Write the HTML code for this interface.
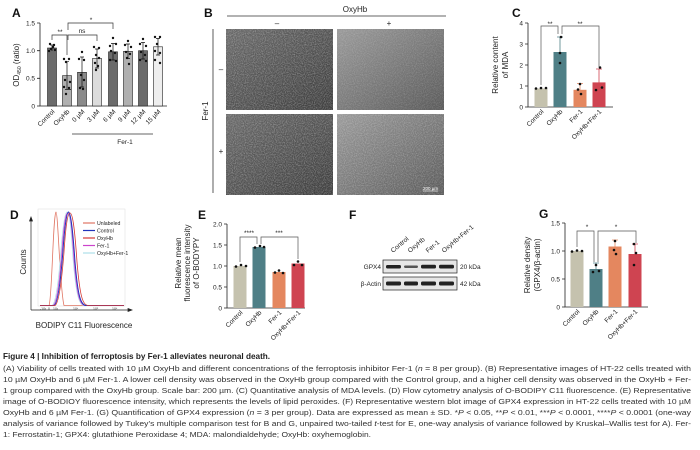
<!DOCTYPE html>
<html><head><meta charset="utf-8"><style>
html,body{margin:0;padding:0;background:#fff;}
svg{display:block;font-family:"Liberation Sans",Arial,sans-serif;}
.t{font-size:6.5px;fill:#222;}
.l{font-size:8px;fill:#222;}
.p{font-size:12px;font-weight:bold;fill:#111;}
.c{font-size:7.6px;fill:#333;}
</style></head><body>
<svg width="700" height="450" viewBox="0 0 700 450" xmlns="http://www.w3.org/2000/svg">
<defs>
<filter id="nz" x="0" y="0" width="100%" height="100%">
<feTurbulence type="fractalNoise" baseFrequency="0.9" numOctaves="2" seed="3"/>
<feColorMatrix type="matrix" values="0 0 0 0 1  0 0 0 0 1  0 0 0 0 1  0 0 0 1.2 -0.45"/>
</filter>
<linearGradient id="gd" x1="0" y1="0" x2="1" y2="1"><stop offset="0" stop-color="#6a6a6a"/><stop offset="1" stop-color="#3c3c3c"/></linearGradient>
<linearGradient id="gl" x1="0" y1="0" x2="1" y2="1"><stop offset="0" stop-color="#9a9a9a"/><stop offset="1" stop-color="#5a5a5a"/></linearGradient>
</defs>

<!-- Panel A -->
<text x="12" y="17" class="p">A</text>
<g stroke="#222" stroke-width="0.8" fill="none">
<path d="M40,23 V106 H167"/>
<path d="M37,23H40M37,50.7H40M37,78.3H40M37,106H40"/>
</g>
<text x="35" y="25.5" class="t" text-anchor="end" font-size="7">1.5</text>
<text x="35" y="53" class="t" text-anchor="end" font-size="7">1.0</text>
<text x="35" y="80.5" class="t" text-anchor="end" font-size="7">0.5</text>
<text x="35" y="108.5" class="t" text-anchor="end" font-size="7">0</text>
<text transform="translate(19,65) rotate(-90)" class="l" text-anchor="middle">OD<tspan font-size="5" dy="2">450</tspan><tspan dy="-2"> (ratio)</tspan></text>
<g stroke="#222" stroke-width="0.6">
<rect x="47.5" y="48" width="9" height="58" fill="#6b6b6b"/>
<rect x="62.5" y="75.6" width="9" height="30.4" fill="#b0b0b0"/>
<rect x="77.5" y="72.3" width="9" height="33.7" fill="#8a8a8a"/>
<rect x="92.5" y="58.4" width="9" height="47.6" fill="#dcdcdc"/>
<rect x="108.5" y="51.8" width="9" height="54.2" fill="#6b6b6b"/>
<rect x="123.5" y="51.3" width="9" height="54.7" fill="#b0b0b0"/>
<rect x="138.5" y="50.7" width="9" height="55.3" fill="#6b6b6b"/>
<rect x="153.5" y="46.8" width="9" height="59.2" fill="#eeeeee"/>
</g>
<g stroke="#111" stroke-width="0.7">
<path d="M52,45V51M50,45H54"/>
<path d="M67,61.7V89.4M65,61.7H69M65,89.4H71"/>
<path d="M82,57V87M80,57H84M80,87H84"/>
<path d="M97,49V68M95,49H99M95,68H99"/>
<path d="M113,43.5V60M111,43.5H115M111,60H115"/>
<path d="M128,44V58.5M126,44H130M126,58.5H130"/>
<path d="M143,42.5V59M141,42.5H145M141,59H145"/>
<path d="M158,38.5V55M156,38.5H160M156,55H160"/>
</g>
<g fill="#111">
<circle cx="50" cy="44" r="1.2"/><circle cx="53" cy="47" r="1.2"/><circle cx="55" cy="50" r="1.2"/><circle cx="49" cy="51" r="1.2"/><circle cx="54" cy="45" r="1.2"/><circle cx="51" cy="49" r="1.2"/>
<circle cx="64" cy="59" r="1.2"/><circle cx="69" cy="59" r="1.2"/><circle cx="66" cy="62" r="1.2"/><circle cx="64" cy="87" r="1.2"/><circle cx="69" cy="88" r="1.2"/><circle cx="66" cy="94" r="1.2"/><circle cx="70" cy="82" r="1.2"/><circle cx="65" cy="80" r="1.2"/>
<circle cx="82" cy="52" r="1.2"/><circle cx="79" cy="59" r="1.2"/><circle cx="84" cy="60" r="1.2"/><circle cx="81" cy="75" r="1.2"/><circle cx="84" cy="80" r="1.2"/><circle cx="80" cy="88" r="1.2"/><circle cx="83" cy="89" r="1.2"/>
<circle cx="94" cy="47" r="1.2"/><circle cx="99" cy="48" r="1.2"/><circle cx="96" cy="55" r="1.2"/><circle cx="99" cy="58" r="1.2"/><circle cx="95" cy="63" r="1.2"/><circle cx="98" cy="66" r="1.2"/><circle cx="96" cy="70" r="1.2"/>
<circle cx="113" cy="38" r="1.2"/><circle cx="110" cy="46" r="1.2"/><circle cx="116" cy="44" r="1.2"/><circle cx="111" cy="51" r="1.2"/><circle cx="115" cy="53" r="1.2"/><circle cx="110" cy="60" r="1.2"/><circle cx="116" cy="61" r="1.2"/>
<circle cx="128" cy="41" r="1.2"/><circle cx="125" cy="45" r="1.2"/><circle cx="131" cy="47" r="1.2"/><circle cx="126" cy="52" r="1.2"/><circle cx="130" cy="54" r="1.2"/><circle cx="127" cy="58" r="1.2"/><circle cx="129" cy="64" r="1.2"/>
<circle cx="143" cy="39" r="1.2"/><circle cx="140" cy="44" r="1.2"/><circle cx="146" cy="46" r="1.2"/><circle cx="141" cy="52" r="1.2"/><circle cx="145" cy="55" r="1.2"/><circle cx="140" cy="60" r="1.2"/><circle cx="146" cy="61" r="1.2"/>
<circle cx="155" cy="37" r="1.2"/><circle cx="160" cy="37" r="1.2"/><circle cx="157" cy="44" r="1.2"/><circle cx="155" cy="51" r="1.2"/><circle cx="160" cy="53" r="1.2"/><circle cx="155" cy="60" r="1.2"/><circle cx="160" cy="63" r="1.2"/>
</g>
<g stroke="#333" stroke-width="0.7" fill="none">
<path d="M52,40V35H67V55"/>
<path d="M68,40V35H97V41"/>
<path d="M68,30V23H113V29"/>
</g>
<text x="60" y="34" class="t" text-anchor="middle">**</text>
<text x="82" y="33" class="t" text-anchor="middle">ns</text>
<text x="91" y="22" class="t" text-anchor="middle">*</text>
<g class="t" font-size="7" text-anchor="end">
<text transform="translate(55,112) rotate(-45)">Control</text>
<text transform="translate(70,112) rotate(-45)">OxyHb</text>
<text transform="translate(85,112) rotate(-45)">0 µM</text>
<text transform="translate(100,112) rotate(-45)">3 µM</text>
<text transform="translate(116,112) rotate(-45)">6 µM</text>
<text transform="translate(131,112) rotate(-45)">9 µM</text>
<text transform="translate(146,112) rotate(-45)">12 µM</text>
<text transform="translate(161,112) rotate(-45)">15 µM</text>
</g>
<path d="M72,134H153" stroke="#333" stroke-width="0.7"/>
<text x="125" y="144" class="t" font-size="7" text-anchor="middle">Fer-1</text>

<!-- Panel B -->
<text x="204" y="17" class="p">B</text>
<path d="M227,16H446" stroke="#333" stroke-width="0.8"/>
<text x="355" y="12" class="l" text-anchor="middle">OxyHb</text>
<text x="277" y="26" class="l" text-anchor="middle">–</text>
<text x="389" y="26" class="l" text-anchor="middle">+</text>
<path d="M213,29V193" stroke="#333" stroke-width="0.8"/>
<text transform="translate(208,111) rotate(-90)" class="l" text-anchor="middle">Fer-1</text>
<text x="221" y="72" class="l" text-anchor="middle">–</text>
<text x="221" y="154" class="l" text-anchor="middle">+</text>
<rect x="226" y="29" width="107" height="81" fill="url(#gd)"/>
<rect x="337" y="29" width="107" height="81" fill="url(#gl)"/>
<rect x="226" y="114" width="107" height="81" fill="url(#gd)"/>
<rect x="337" y="114" width="107" height="81" fill="url(#gl)"/>
<rect x="226" y="29" width="107" height="81" filter="url(#nz)" opacity="0.6"/>
<rect x="337" y="29" width="107" height="81" filter="url(#nz)" opacity="0.35"/>
<rect x="226" y="114" width="107" height="81" filter="url(#nz)" opacity="0.6"/>
<rect x="337" y="114" width="107" height="81" filter="url(#nz)" opacity="0.5"/>
<text x="423" y="190" font-size="4.5" fill="#fff">200 µm</text>
<path d="M423,191H438" stroke="#fff" stroke-width="0.6"/>

<!-- Panel C -->
<text x="512" y="17" class="p">C</text>
<text transform="translate(498,65) rotate(-90)" class="l" text-anchor="middle">Relative content</text>
<text transform="translate(508,65) rotate(-90)" class="l" text-anchor="middle">of MDA</text>
<g stroke="#222" stroke-width="0.8" fill="none">
<path d="M528,23V107H613"/>
<path d="M525,23H528M525,44H528M525,65H528M525,86H528M525,107H528"/>
</g>
<g class="t" font-size="7" text-anchor="end">
<text x="523" y="25.5">4</text><text x="523" y="46.5">3</text><text x="523" y="67.5">2</text><text x="523" y="88.5">1</text><text x="523" y="109.5">0</text>
</g>
<rect x="534.5" y="88.5" width="13" height="18.5" fill="#c5c2ae"/>
<rect x="553.5" y="52" width="13" height="55" fill="#4f7f86"/>
<rect x="573.5" y="89.8" width="13" height="17.2" fill="#e4875f"/>
<rect x="592.5" y="82.4" width="13" height="24.6" fill="#cf4451"/>
<g stroke-width="0.8"><path d="M560,37V67M557,37H563" stroke="#4f7f86"/><path d="M580,83.5V96M577,83.5H583" stroke="#e4875f"/><path d="M599,69V95M596,69H602" stroke="#cf4451"/></g>
<g fill="#111">
<circle cx="536" cy="88.5" r="1.3"/><circle cx="541" cy="88" r="1.3"/><circle cx="546" cy="88" r="1.3"/>
<circle cx="561" cy="37" r="1.3"/><circle cx="560" cy="53" r="1.3"/><circle cx="560" cy="63" r="1.3"/>
<circle cx="580" cy="84" r="1.3"/><circle cx="581" cy="94" r="1.3"/><circle cx="578" cy="89.5" r="1.3"/>
<circle cx="600" cy="67.5" r="1.3"/><circle cx="596" cy="90" r="1.3"/><circle cx="602" cy="87.5" r="1.3"/>
</g>
<g stroke="#555" stroke-width="0.7" fill="none"><path d="M541,85V26H558V34"/><path d="M562,34V26H599V67"/></g>
<text x="550" y="26" class="t" text-anchor="middle">**</text>
<text x="580" y="26" class="t" text-anchor="middle">**</text>
<g class="t" font-size="7" text-anchor="end">
<text transform="translate(544,112) rotate(-45)">Control</text>
<text transform="translate(563,112) rotate(-45)">OxyHb</text>
<text transform="translate(583,112) rotate(-45)">Fer-1</text>
<text transform="translate(602,112) rotate(-45)">OxyHb+Fer-1</text>
</g>

<!-- Panel D -->
<text x="10" y="219" class="p">D</text>
<rect x="38" y="209" width="87" height="97" fill="#fff" stroke="#ddd" stroke-width="0.5"/>
<g stroke="#222" stroke-width="0.7" fill="#222">
<path d="M31,310V220" fill="none"/><path d="M29.5,221L31,217L32.5,221Z"/>
<path d="M31,310H129" fill="none"/><path d="M128,308.5L132,310L128,311.5Z"/>
</g>
<text transform="translate(26,262) rotate(-90)" class="l" text-anchor="middle">Counts</text>
<text x="84" y="328" class="l" text-anchor="middle">BODIPY C11 Fluorescence</text>
<g font-size="3.5" fill="#333"><text x="40" y="310">-10³</text><text x="48" y="310">0</text><text x="53" y="310">10³</text><text x="73" y="310">10⁴</text><text x="93" y="310">10⁵</text><text x="112" y="310">10⁶</text></g>
<g fill="none" stroke-width="0.8">
<path d="M40,305.5H49C52,300 53,215 56,212C58,212 60,290 64,305.5H124" stroke="#e07563"/>
<path d="M40,305.5H52C55,304 58,290 61,250C63,225 65,212 67,212C70,212 71,230 73,258C76,295 79,305 84,305.5H124" stroke="#aee0ea"/>
<path d="M40,305.5H53C56,304 59,290 62,250C64,222 66,212 68,213C71,214 72,232 74,260C77,297 80,305 85,305.5H124" stroke="#cc44cc"/>
<path d="M40,305.5H54C57,304 60,290 63,250C65,222 67,212 68.5,212C71,213 73,233 75,262C78,298 81,305 86,305.5H124" stroke="#2233bb" stroke-width="1"/>
<path d="M40,305.5H55C58,304 61,290 64,252C66,222 68,213 70,213C73,213 75,233 77,262C80,298 83,305 88,305.5H124" stroke="#d63a36"/>
</g>
<g stroke-width="1.2">
<path d="M83,223H95" stroke="#e07563"/><path d="M83,230.5H95" stroke="#2233bb"/><path d="M83,238H95" stroke="#d63a36"/><path d="M83,245.5H95" stroke="#cc44cc"/><path d="M83,253H95" stroke="#aee0ea"/>
</g>
<g font-size="5.2" fill="#222"><text x="97" y="225">Unlabeled</text><text x="97" y="232.5">Control</text><text x="97" y="240">OxyHb</text><text x="97" y="247.5">Fer-1</text><text x="97" y="255">OxyHb+Fer-1</text></g>

<!-- Panel E -->
<text x="198" y="219" class="p">E</text>
<g class="l" text-anchor="middle"><text transform="translate(181,263) rotate(-90)">Relative mean</text><text transform="translate(190,263) rotate(-90)">fluorescence intensity</text><text transform="translate(199,263) rotate(-90)">of O-BODYPY</text></g>
<g stroke="#222" stroke-width="0.8" fill="none"><path d="M227,224V308H305"/><path d="M224,224H227M224,245H227M224,266H227M224,287H227M224,308H227"/></g>
<g class="t" font-size="7" text-anchor="end"><text x="222" y="226.5">2.0</text><text x="222" y="247.5">1.5</text><text x="222" y="268.5">1.0</text><text x="222" y="289.5">0.5</text><text x="222" y="310.5">0</text></g>
<rect x="233.5" y="266" width="13" height="42" fill="#c5c2ae"/>
<rect x="252.5" y="247" width="13" height="61" fill="#4f7f86"/>
<rect x="272.5" y="272" width="13" height="36" fill="#e4875f"/>
<rect x="291.5" y="263.5" width="13" height="44.5" fill="#cf4451"/>
<g fill="#111"><circle cx="236" cy="266.5" r="1.3"/><circle cx="241" cy="265" r="1.3"/><circle cx="246" cy="266" r="1.3"/><circle cx="255" cy="247.5" r="1.3"/><circle cx="260" cy="246" r="1.3"/><circle cx="264" cy="247" r="1.3"/><circle cx="275" cy="272.5" r="1.3"/><circle cx="279" cy="270.5" r="1.3"/><circle cx="283" cy="273" r="1.3"/><circle cx="294" cy="265" r="1.3"/><circle cx="298" cy="261.5" r="1.3"/><circle cx="302" cy="265" r="1.3"/></g>
<g stroke="#555" stroke-width="0.7" fill="none"><path d="M240,262V237H257V244"/><path d="M261,244V237H298V259"/></g>
<text x="249" y="235" class="t" text-anchor="middle">****</text>
<text x="279" y="235" class="t" text-anchor="middle">***</text>
<g class="t" font-size="7" text-anchor="end">
<text transform="translate(243,313) rotate(-45)">Control</text>
<text transform="translate(262,313) rotate(-45)">OxyHb</text>
<text transform="translate(282,313) rotate(-45)">Fer-1</text>
<text transform="translate(301,313) rotate(-45)">OxyHb+Fer-1</text>
</g>

<!-- Panel F -->
<text x="349" y="219" class="p">F</text>
<g class="t" font-size="6.5">
<text transform="translate(393,253) rotate(-40)">Control</text>
<text transform="translate(410,253) rotate(-40)">OxyHb</text>
<text transform="translate(428,253) rotate(-40)">Fer-1</text>
<text transform="translate(444,253) rotate(-40)">OxyHb+Fer-1</text>
</g>
<rect x="383" y="260" width="74" height="13" fill="#e6e6e6" stroke="#222" stroke-width="0.7"/>
<rect x="383" y="277" width="74" height="13" fill="#e6e6e6" stroke="#222" stroke-width="0.7"/>
<g fill="#222"><rect x="386" y="265" width="15" height="3.5" rx="1.5"/><rect x="404" y="265.5" width="14" height="2.5" rx="1.2" fill="#555"/><rect x="421" y="264.8" width="15" height="3.7" rx="1.5"/><rect x="439" y="264.8" width="15" height="3.7" rx="1.5"/>
<rect x="386" y="281.5" width="15" height="4" rx="1.5"/><rect x="404" y="281.5" width="14" height="4" rx="1.5"/><rect x="421" y="281.5" width="15" height="4" rx="1.5"/><rect x="439" y="281.5" width="15" height="4" rx="1.5"/></g>
<g class="t" font-size="7"><text x="381" y="269" text-anchor="end">GPX4</text><text x="381" y="286" text-anchor="end">β-Actin</text><text x="460" y="269">20 kDa</text><text x="460" y="286">42 kDa</text></g>

<!-- Panel G -->
<text x="539" y="218" class="p">G</text>
<g class="l" text-anchor="middle"><text transform="translate(530,265) rotate(-90)">Relative density</text><text transform="translate(540,265) rotate(-90)">(GPX4/β-actin)</text></g>
<g stroke="#222" stroke-width="0.8" fill="none"><path d="M565,223V307H648"/><path d="M562,223H565M562,251H565M562,279H565M562,307H565"/></g>
<g class="t" font-size="7" text-anchor="end"><text x="560" y="225.5">1.5</text><text x="560" y="253.5">1.0</text><text x="560" y="281.5">0.5</text><text x="560" y="309.5">0</text></g>
<rect x="570.5" y="251" width="13" height="56" fill="#c5c2ae"/>
<rect x="589.5" y="269" width="13" height="38" fill="#4f7f86"/>
<rect x="608.5" y="246.5" width="13" height="60.5" fill="#e4875f"/>
<rect x="628.5" y="254" width="13" height="53" fill="#cf4451"/>
<g stroke-width="0.8"><path d="M596,263V274M593,263H599" stroke="#4f7f86"/><path d="M615,240V253M612,240H618" stroke="#e4875f"/><path d="M635,244V265M632,244H638" stroke="#cf4451"/></g>
<g fill="#111"><circle cx="572" cy="251.5" r="1.3"/><circle cx="577" cy="250.5" r="1.3"/><circle cx="582" cy="251" r="1.3"/><circle cx="596" cy="265" r="1.3"/><circle cx="593" cy="272" r="1.3"/><circle cx="599" cy="271" r="1.3"/><circle cx="615" cy="241" r="1.3"/><circle cx="614" cy="250" r="1.3"/><circle cx="616" cy="254" r="1.3"/><circle cx="634" cy="244" r="1.3"/><circle cx="636" cy="253" r="1.3"/><circle cx="634" cy="265" r="1.3"/></g>
<g stroke="#555" stroke-width="0.7" fill="none"><path d="M577,247V231H594V262"/><path d="M598,262V231H636V243"/></g>
<text x="587" y="229" class="t" text-anchor="middle">*</text>
<text x="616" y="229" class="t" text-anchor="middle">*</text>
<g class="t" font-size="7" text-anchor="end">
<text transform="translate(580,312) rotate(-45)">Control</text>
<text transform="translate(599,312) rotate(-45)">OxyHb</text>
<text transform="translate(618,312) rotate(-45)">Fer-1</text>
<text transform="translate(638,312) rotate(-45)">OxyHb+Fer-1</text>
</g>

<!-- Caption -->
<text x="3" y="359" font-size="8.2" font-weight="bold" fill="#222">Figure 4  |  Inhibition of ferroptosis by Fer-1 alleviates neuronal death.</text>
<g class="c">
<text x="3" y="371" textLength="688" lengthAdjust="spacingAndGlyphs">(A) Viability of cells treated with 10 µM OxyHb and different concentrations of the ferroptosis inhibitor Fer-1 (<tspan font-style="italic">n</tspan> = 8 per group). (B) Representative images of HT-22 cells treated with</text>
<text x="3" y="382" textLength="688" lengthAdjust="spacingAndGlyphs">10 µM OxyHb and 6 µM Fer-1. A lower cell density was observed in the OxyHb group compared with the Control group, and a higher cell density was observed in the OxyHb + Fer-</text>
<text x="3" y="393" textLength="688" lengthAdjust="spacingAndGlyphs">1 group compared with the OxyHb group. Scale bar: 200 µm. (C) Quantitative analysis of MDA levels. (D) Flow cytometry analysis of O-BODIPY C11 fluorescence. (E) Representative</text>
<text x="3" y="404" textLength="688" lengthAdjust="spacingAndGlyphs">image of O-BODIOY fluorescence intensity, which represents the levels of lipid peroxides. (F) Representative western blot image of GPX4 expression in HT-22 cells treated with 10 µM</text>
<text x="3" y="415" textLength="688" lengthAdjust="spacingAndGlyphs">OxyHb and 6 µM Fer-1. (G) Quantification of GPX4 expression (<tspan font-style="italic">n</tspan> = 3 per group). Data are expressed as mean ± SD. *<tspan font-style="italic">P</tspan> &lt; 0.05, **<tspan font-style="italic">P</tspan> &lt; 0.01, ***<tspan font-style="italic">P</tspan> &lt; 0.0001, ****<tspan font-style="italic">P</tspan> &lt; 0.0001 (one-way</text>
<text x="3" y="426" textLength="688" lengthAdjust="spacingAndGlyphs">analysis of variance followed by Tukey’s multiple comparison test for B and G, unpaired two-tailed <tspan font-style="italic">t</tspan>-test for E, one-way analysis of variance followed by Kruskal–Wallis test for A). Fer-</text>
<text x="3" y="437" textLength="368" lengthAdjust="spacingAndGlyphs">1: Ferrostatin-1; GPX4: glutathione Peroxidase 4; MDA: malondialdehyde; OxyHb: oxyhemoglobin.</text>
</g>
</svg>
</body></html>
